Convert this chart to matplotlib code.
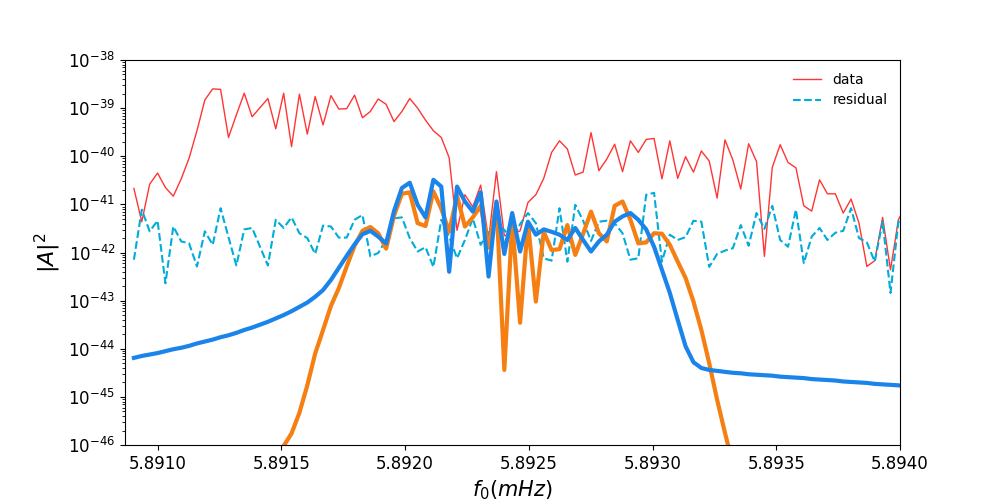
import numpy as np
import matplotlib
matplotlib.use("Agg")
from matplotlib import pyplot as plt
from matplotlib.ticker import FormatStrFormatter, LogLocator

# frequency bins (mHz): start and bin width, 99 bins
f_start = 5.890904
f_step = 3.185e-5
n_bins = 99

# log10 |A|^2, one value per bin
data_log = [
    -40.67, -41.36, -40.58, -40.35, -40.65, -40.83, -40.47, -40.04, -39.47, -38.83,
    -38.60, -38.61, -39.61, -39.14, -38.69, -39.18, -38.99, -38.80, -39.43, -38.69,
    -39.80, -38.71, -39.54, -38.76, -39.35, -38.74, -39.02, -39.01, -38.73, -39.20,
    -39.07, -38.81, -38.92, -39.28, -39.07, -38.80, -39.00, -39.25, -39.47, -39.61,
    -40.03, -41.54, -40.80, -41.05, -40.60, -41.74, -40.32, -41.65, -41.62, -41.55,
    -40.96, -40.80, -40.46, -39.92, -39.68, -39.85, -40.39, -40.33, -39.51, -40.30,
    -40.06, -39.75, -40.32, -39.68, -39.92, -39.65, -39.63, -40.47, -39.68, -40.46,
    -40.01, -40.33, -39.89, -40.10, -40.87, -39.66, -40.08, -40.68, -39.74, -40.11,
    -42.08, -40.23, -39.76, -40.13, -40.24, -41.03, -41.14, -40.49, -40.78, -40.78,
    -41.18, -40.89, -41.39, -42.29, -42.17, -41.27, -42.36, -41.32, -41.01]

residual_log = [
    -42.15, -41.11, -41.56, -41.34, -42.64, -41.46, -41.77, -41.81, -42.29, -41.56,
    -41.84, -41.08, -41.68, -42.27, -41.52, -41.49, -41.88, -42.27, -41.32, -41.49,
    -41.27, -41.60, -41.70, -42.03, -41.44, -41.46, -41.69, -41.69, -41.32, -41.22,
    -42.08, -42.01, -41.74, -41.29, -41.27, -41.70, -41.98, -41.89, -42.30, -41.32,
    -41.67, -42.12, -41.74, -41.29, -41.84, -41.57, -41.43, -41.53, -41.74, -41.41,
    -41.18, -41.39, -42.12, -42.17, -41.08, -42.19, -41.01, -41.34, -41.76, -41.36,
    -41.34, -41.39, -41.60, -42.15, -42.12, -40.80, -40.76, -42.19, -41.63, -41.74,
    -41.68, -41.34, -41.36, -42.30, -42.03, -41.96, -41.91, -41.43, -41.86, -41.18,
    -41.51, -41.03, -41.74, -41.88, -41.11, -42.22, -41.67, -41.49, -41.74, -41.59,
    -41.55, -41.08, -41.70, -41.79, -42.19, -41.36, -42.84, -41.36, -41.32]

model_a_log = [  # orange
    -52.0, -51.4, -50.8, -50.2, -49.7, -49.2, -48.7, -48.3, -47.9, -47.6,
    -47.3, -47.1, -46.9, -46.75, -46.6, -46.5, -46.4, -46.3, -46.2, -46.02,
    -45.76, -45.33, -44.76, -44.10, -43.61, -43.11, -42.74, -42.29, -41.86, -41.55,
    -41.47, -41.60, -41.92, -41.24, -40.78, -40.75, -41.39, -41.45, -40.73, -41.09,
    -41.57, -40.82, -41.46, -41.27, -41.03, -41.90, -40.97, -44.44, -41.36, -43.46,
    -41.38, -43.02, -41.57, -41.95, -41.93, -41.43, -42.05, -41.61, -41.15, -41.60,
    -41.77, -41.03, -40.94, -41.32, -41.81, -41.79, -41.60, -41.61, -41.84, -42.19,
    -42.53, -43.02, -43.61, -44.30, -45.06, -45.75, -46.40, -47.10, -47.80, -48.50,
    -49.2, -49.9, -50.6, -51.3, -52.0, -52.7, -53.4, -54.1, -54.8, -55.5,
    -56.2, -56.9, -57.6, -58.3, -59.0, -59.7, -60.4, -61.1, -61.8]

model_b_log = [  # blue
    -44.19, -44.15, -44.12, -44.09, -44.05, -44.01, -43.98, -43.94, -43.89, -43.85,
    -43.81, -43.76, -43.72, -43.67, -43.61, -43.56, -43.50, -43.44, -43.37, -43.30,
    -43.22, -43.13, -43.04, -42.92, -42.78, -42.57, -42.32, -42.07, -41.83, -41.62,
    -41.55, -41.67, -41.81, -41.14, -40.66, -40.55, -41.01, -41.27, -40.49, -40.63,
    -42.40, -40.63, -40.94, -41.15, -40.75, -42.50, -40.94, -42.03, -41.18, -41.98,
    -41.36, -41.63, -41.52, -41.57, -41.63, -41.74, -41.49, -41.74, -41.98, -41.77,
    -41.63, -41.36, -41.25, -41.18, -41.32, -41.52, -41.88, -42.36, -42.84, -43.40,
    -43.95, -44.28, -44.40, -44.44, -44.46, -44.48, -44.50, -44.51, -44.53, -44.54,
    -44.55, -44.56, -44.58, -44.59, -44.60, -44.61, -44.63, -44.64, -44.65, -44.66,
    -44.68, -44.69, -44.70, -44.71, -44.73, -44.74, -44.75, -44.76, -44.78]

f0 = f_start + f_step * np.arange(n_bins)

fig, ax = plt.subplots(figsize=(10, 5), dpi=100)

ax.plot(f0, 10.0 ** np.array(data_log), color='#ff3535', lw=1, label='data')
ax.plot(f0, 10.0 ** np.array(residual_log), '--', color='#00acd9', lw=1.5, label='residual')
ax.plot(f0, 10.0 ** np.array(model_a_log), color='#f57f12', lw=3)
ax.plot(f0, 10.0 ** np.array(model_b_log), color='#1b84ea', lw=3)

ax.set_yscale('log')
ax.set_ylim(1e-46, 1e-38)
ax.set_xlim(5.890868, 5.8940)
ax.yaxis.set_major_locator(LogLocator(base=10, numticks=20))
ax.set_xticks([5.8910, 5.8915, 5.8920, 5.8925, 5.8930, 5.8935, 5.8940])
ax.xaxis.set_major_formatter(FormatStrFormatter('%.4f'))
ax.tick_params(axis='both', which='major', labelsize=12)

ax.set_xlabel('$f_0(mHz)$', fontsize=15)
ax.set_ylabel('$|A|^2$', fontsize=16)
ax.legend(loc='upper right', frameon=False, fontsize=10)

plt.savefig('out.png')
